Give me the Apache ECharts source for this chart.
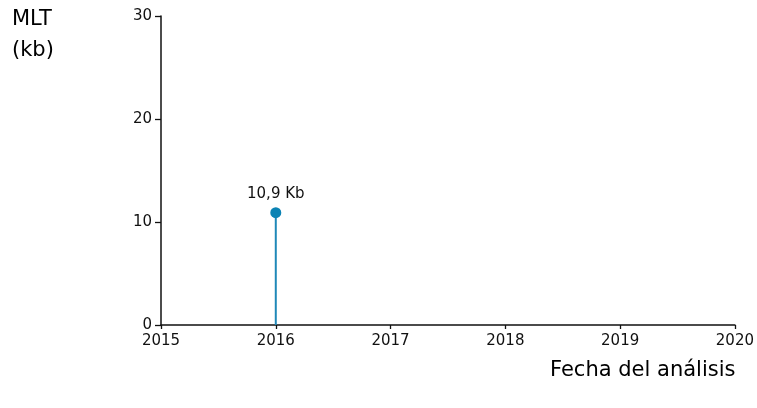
<!DOCTYPE html>
<html>
<head>
<meta charset="utf-8">
<script src="https://cdn.jsdelivr.net/npm/echarts@6/dist/echarts.min.js"></script>
<style>html,body{margin:0;padding:0;background:#fff;}#c{width:757px;height:408px;}</style>
</head>
<body>
<div id="c"></div>
<script>
const years = [2016];
const mltValues = [10.9];
const xTicks = [2015, 2016, 2017, 2018, 2019, 2020];
const yTicks = [0, 10, 20, 30];
const yTitleLines = ['MLT', '(kb)'];
const xTitle = 'Fecha del análisis';

const pts = years.map((y, i) => [y, mltValues[i]]);
const FONT = 'DejaVu Sans';
const chart = echarts.init(document.getElementById('c'), null, {renderer: 'canvas'});
chart.setOption({
  animation: false,
  backgroundColor: '#fff',
  grid: {left: 161, right: 19, top: 16, bottom: 83},
  xAxis: {
    type: 'value', min: xTicks[0], max: xTicks[xTicks.length - 1], interval: 1,
    axisLine: {show: true, lineStyle: {color: '#111', width: 1.5}},
    axisTick: {show: true, inside: false, length: 4, lineStyle: {color: '#111', width: 1.3}},
    splitLine: {show: false},
    axisLabel: {color: '#111', fontFamily: FONT, fontSize: 15, margin: 9, formatter: v => String(v)}
  },
  yAxis: {
    type: 'value', min: yTicks[0], max: yTicks[yTicks.length - 1], interval: 10,
    axisLine: {show: true, lineStyle: {color: '#111', width: 1.5}},
    axisTick: {show: true, inside: false, length: 6, lineStyle: {color: '#111', width: 1.3}},
    splitLine: {show: false},
    axisLabel: {color: '#111', fontFamily: FONT, fontSize: 15, margin: 9}
  },
  graphic: [
    {type: 'text', left: 12, top: 4, style: {text: yTitleLines.join('\n'), font: '21px "DejaVu Sans"', fill: '#000', lineHeight: 31}},
    {type: 'text', left: 550, top: 360, style: {text: xTitle, font: '21px "DejaVu Sans"', fill: '#000'}}
  ],
  series: [
    {
      type: 'bar', data: pts, barWidth: 2,
      itemStyle: {color: '#1f88b8', opacity: 1}, silent: true
    },
    {
      type: 'scatter', data: pts, symbol: 'circle', symbolSize: 11,
      itemStyle: {color: '#0b83b4', opacity: 1},
      label: {
        show: true, position: 'top', distance: 6,
        color: '#111', fontFamily: FONT, fontSize: 15,
        formatter: p => String(p.value[1]).replace('.', ',') + ' Kb'
      }
    }
  ]
});
</script>
</body>
</html>
